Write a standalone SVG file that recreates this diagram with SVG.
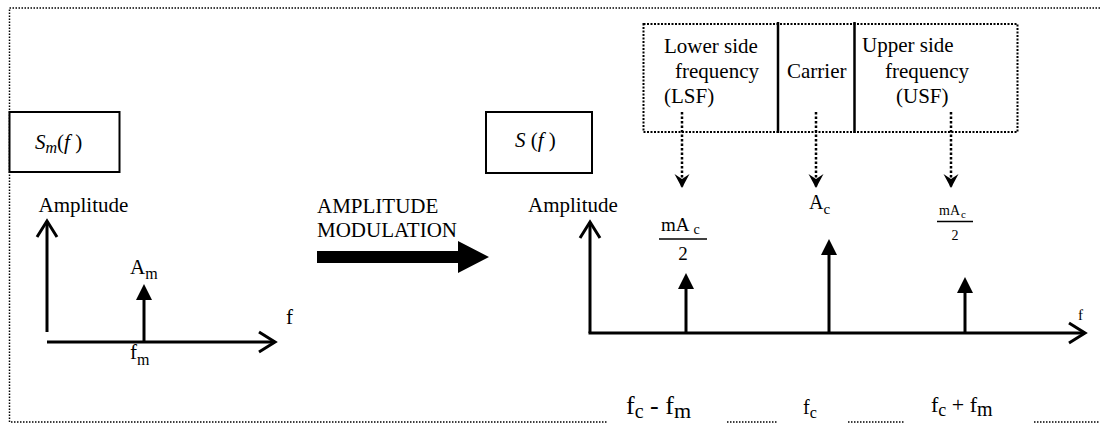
<svg xmlns="http://www.w3.org/2000/svg" width="1100" height="424" viewBox="0 0 1100 424">
<defs>
<marker id="chev" markerUnits="userSpaceOnUse" markerWidth="22" markerHeight="24" refX="17" refY="11" orient="auto" overflow="visible">
<path d="M1,1 L17,11 L1,21" fill="none" stroke="#000" stroke-width="3"/>
</marker>
<marker id="tri" markerUnits="userSpaceOnUse" markerWidth="18" markerHeight="18" refX="0" refY="8" orient="auto" overflow="visible">
<path d="M0,0 L16,8 L0,16 z" fill="#000"/>
</marker>
<marker id="dart" markerUnits="userSpaceOnUse" markerWidth="16" markerHeight="16" refX="14" refY="7.5" orient="auto" overflow="visible">
<path d="M0,0 L14,7.5 L0,15 L5,7.5 z" fill="#000"/>
</marker>
</defs>

<g id="frame" stroke="#000" stroke-width="1.5" stroke-dasharray="1.5 1.5" fill="none">
<path d="M1100,8 H9.5 V422 H608"/>
<path d="M727,422 H777"/>
<path d="M848,422 H905"/>
<path d="M1034,422 H1100"/>
</g>

<g id="node-sm">
<rect x="9.5" y="112" width="110" height="60" fill="#fff" stroke="#000" stroke-width="2"/>
<text x="35" y="149" font-size="21" font-family="Liberation Serif"><tspan font-style="italic">S</tspan><tspan font-style="italic" font-size="16" dy="4">m</tspan><tspan dy="-4">(</tspan><tspan font-style="italic">f</tspan><tspan> )</tspan></text>
</g>

<g id="node-s">
<rect x="486" y="112" width="106" height="61" fill="#fff" stroke="#000" stroke-width="2"/>
<text x="515" y="147" font-size="21" font-family="Liberation Serif"><tspan font-style="italic">S</tspan><tspan> (</tspan><tspan font-style="italic">f</tspan><tspan> )</tspan></text>
</g>

<g id="labels-top">
<rect x="643.5" y="24" width="374" height="108" fill="none" stroke="#000" stroke-width="2" stroke-dasharray="2 1.5"/>
<line x1="778" y1="22" x2="778" y2="133" stroke="#000" stroke-width="2.5"/>
<line x1="854.5" y1="22" x2="854.5" y2="133" stroke="#000" stroke-width="2.5"/>
<g id="node-lsf" font-size="21" font-family="Liberation Serif">
<text x="664" y="53" font-family="Liberation Serif">Lower side</text>
<text x="675" y="78" font-family="Liberation Serif">frequency</text>
<text x="664" y="103" font-family="Liberation Serif">(LSF)</text>
</g>
<g id="node-carrier" font-size="21" font-family="Liberation Serif">
<text x="787" y="78" font-family="Liberation Serif">Carrier</text>
</g>
<g id="node-usf" font-size="21" font-family="Liberation Serif">
<text x="862" y="52" font-family="Liberation Serif">Upper side</text>
<text x="885" y="78" font-family="Liberation Serif">frequency</text>
<text x="896" y="103" font-family="Liberation Serif">(USF)</text>
</g>
</g>

<g id="connectors">
<g stroke="#000" stroke-width="2.5" stroke-dasharray="2.5 2" fill="none">
<line x1="682" y1="112" x2="682" y2="188" marker-end="url(#dart)"/>
<line x1="816" y1="112" x2="816" y2="188" marker-end="url(#dart)"/>
<line x1="951" y1="112" x2="951" y2="188" marker-end="url(#dart)"/>
</g>
<path d="M317,251 H458 V241 L489,257 L458,273 V263 H317 z" fill="#000"/>
</g>

<g id="left-plot">
<text x="38.5" y="212" font-size="21" font-family="Liberation Serif">Amplitude</text>
<g stroke="#000" stroke-width="3" fill="none">
<line x1="47" y1="332" x2="47" y2="221" marker-end="url(#chev)"/>
<line x1="47" y1="342" x2="275" y2="342" marker-end="url(#chev)"/>
<line x1="144" y1="342" x2="144" y2="300" marker-end="url(#tri)"/>
</g>
<text x="130" y="274" font-size="21" font-family="Liberation Serif">A<tspan font-size="16" dy="5">m</tspan></text>
<text x="130" y="359" font-size="21" font-family="Liberation Serif">f<tspan font-size="16" dy="6">m</tspan></text>
<text x="286" y="324" font-size="21" font-family="Liberation Serif">f</text>
</g>

<g id="middle-label">
<text x="317" y="213" font-size="21" font-family="Liberation Serif">AMPLITUDE</text>
<text x="317" y="237" font-size="21" font-family="Liberation Serif">MODULATION</text>
</g>

<g id="right-plot">
<text x="528" y="212" font-size="21" font-family="Liberation Serif">Amplitude</text>
<g stroke="#000" stroke-width="3" fill="none">
<line x1="590" y1="333" x2="590" y2="222" marker-end="url(#chev)"/>
<line x1="588.5" y1="333" x2="1085" y2="333" marker-end="url(#chev)"/>
<line x1="686" y1="333" x2="686" y2="289" marker-end="url(#tri)"/>
<line x1="829" y1="333" x2="829" y2="255" marker-end="url(#tri)"/>
<line x1="965" y1="333" x2="965" y2="293" marker-end="url(#tri)"/>
</g>
<text x="1078" y="320" font-size="15" font-family="Liberation Serif">f</text>
<text x="809" y="209" font-size="20" font-family="Liberation Serif">A<tspan font-size="15" dy="5">c</tspan></text>
<text x="661" y="231" font-size="19" font-family="Liberation Serif">mA<tspan font-size="14" dx="4" dy="3">c</tspan></text>
<line x1="659" y1="239" x2="707" y2="239" stroke="#000" stroke-width="1.5"/>
<text x="683" y="260" font-size="19" text-anchor="middle" font-family="Liberation Serif">2</text>
<text x="939" y="215" font-size="14" font-family="Liberation Serif">mA<tspan font-size="11" dx="1" dy="3">c</tspan></text>
<line x1="937" y1="221.5" x2="973" y2="221.5" stroke="#000" stroke-width="1.5"/>
<text x="955" y="240" font-size="14" text-anchor="middle" font-family="Liberation Serif">2</text>
</g>

<g id="freq-labels">
<text x="626" y="414" font-size="26" font-family="Liberation Serif">f<tspan font-size="20" dy="4">c</tspan><tspan dy="-4"> - f</tspan><tspan font-size="22" dy="4">m</tspan></text>
<text x="803" y="414" font-size="20" font-family="Liberation Serif">f<tspan font-size="16" dy="4">c</tspan></text>
<text x="931" y="412" font-size="22" font-family="Liberation Serif">f<tspan font-size="18" dy="4">c</tspan><tspan dy="-4">  + f</tspan><tspan font-size="20" dy="4">m</tspan></text>
</g>
</svg>
